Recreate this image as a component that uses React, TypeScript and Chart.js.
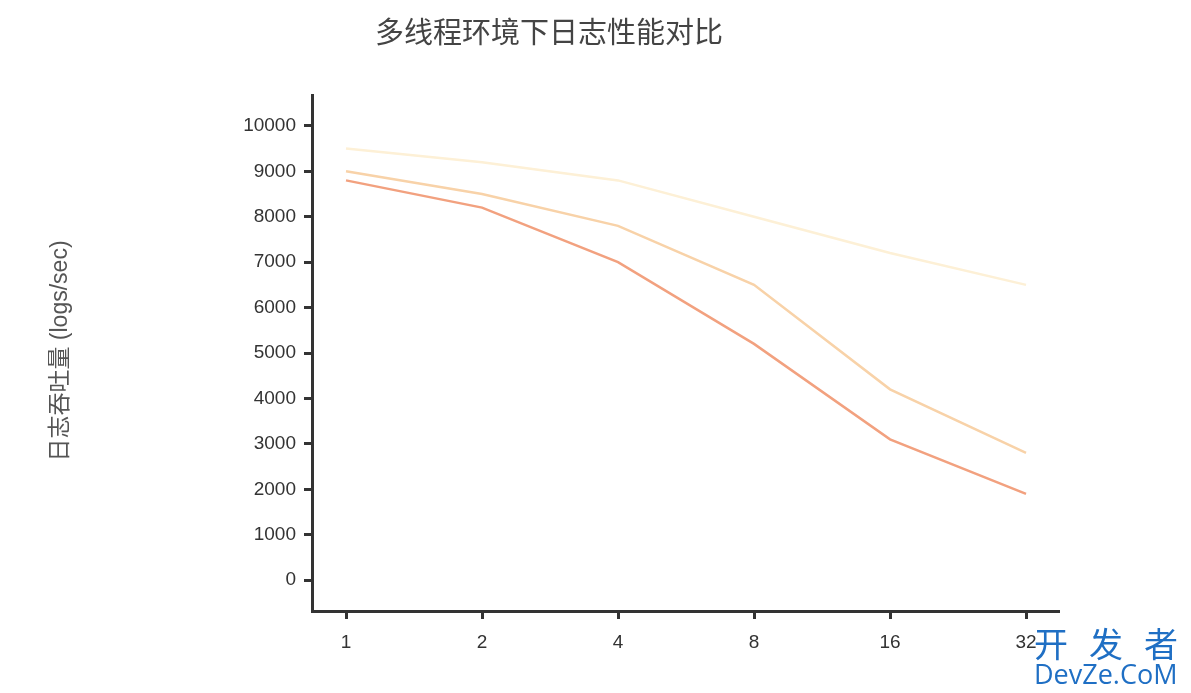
import React, { useEffect, useRef } from "react";
import { Chart, registerables } from "chart.js";

Chart.register(...registerables);

const threadLabels = ["1", "2", "4", "8", "16", "32"];
const seriesTop = [9500, 9200, 8800, 8000, 7200, 6500];
const seriesMid = [9000, 8500, 7800, 6500, 4200, 2800];
const seriesLow = [8800, 8200, 7000, 5200, 3100, 1900];
const yTicks = [0, 1000, 2000, 3000, 4000, 5000, 6000, 7000, 8000, 9000, 10000];
const titleText = "多线程环境下日志性能对比";
const yTitleText = "日志吞吐量 (logs/sec)";
const watermarkChars = ["开", "发", "者"];
const watermarkLatin = "DevZe.CoM";

const overlayPlugin = {
  id: "overlayText",
  afterDraw(chart: any) {
    const ctx = chart.ctx;
    ctx.save();
    ctx.fillStyle = "#444";
    ctx.font = '29px "Noto Sans CJK SC", sans-serif';
    ctx.textAlign = "center";
    ctx.textBaseline = "middle";
    ctx.fillText(titleText, 541, 24);

    ctx.translate(53, 343);
    ctx.rotate(-Math.PI / 2);
    ctx.fillStyle = "#555";
    ctx.font = '23px "Liberation Sans", "Noto Sans CJK SC", sans-serif';
    ctx.fillText(yTitleText, 0, 0);
    ctx.restore();

    ctx.save();
    ctx.fillStyle = "#1f6fc4";
    ctx.textAlign = "left";
    ctx.textBaseline = "alphabetic";
    ctx.font = '34px "Noto Sans CJK SC", sans-serif';
    watermarkChars.forEach((c, i) => ctx.fillText(c, 1026 + i * 55, 649));
    ctx.font = '27px "Open Sans", "DejaVu Sans", sans-serif';
    ctx.fillText(watermarkLatin, 1026, 676);
    ctx.restore();
  },
};

export default function App() {
  const ref = useRef<HTMLCanvasElement | null>(null);
  useEffect(() => {
    if (!ref.current) return;
    const mk = (vals: number[], color: string) => ({
      data: vals.map((v, i) => ({ x: i, y: v })),
      borderColor: color,
      backgroundColor: color,
      borderWidth: 2.5,
      pointRadius: 0,
      tension: 0,
      fill: false,
    });
    const chart = new Chart(ref.current, {
      type: "line",
      data: {
        datasets: [
          mk(seriesTop, "#fdf0d6"),
          mk(seriesMid, "#f8d2a8"),
          mk(seriesLow, "#f2a17f"),
        ],
      },
      options: {
        animation: false,
        responsive: true,
        maintainAspectRatio: false,
        layout: { padding: { top: 87, right: 125, left: 0, bottom: 0 } },
        plugins: {
          legend: { display: false },
          title: { display: false },
          tooltip: { enabled: false },
        },
        scales: {
          x: {
            type: "linear",
            min: -0.25,
            max: 5.235,
            afterFit: (s: any) => {
              s.height = 74;
            },
            afterBuildTicks: (s: any) => {
              s.ticks = threadLabels.map((_, i) => ({ value: i }));
            },
            ticks: {
              callback: (v: any) => threadLabels[v] ?? "",
              color: "#333",
              font: { size: 19, family: '"Liberation Sans", Arial, sans-serif' },
              padding: 12,
              maxRotation: 0,
              autoSkip: false,
            },
            grid: {
              drawOnChartArea: false,
              drawTicks: true,
              tickLength: 8,
              color: "#333",
              lineWidth: 3,
            },
            border: { display: true, color: "#333", width: 3 },
          },
          y: {
            type: "linear",
            min: -680,
            max: 10680,
            afterFit: (s: any) => {
              s.width = 304;
            },
            afterBuildTicks: (s: any) => {
              s.ticks = yTicks.map((v) => ({ value: v }));
            },
            ticks: {
              callback: (v: any) => String(v),
              color: "#333",
              font: { size: 19, family: '"Liberation Sans", Arial, sans-serif' },
              padding: 8,
            },
            grid: {
              drawOnChartArea: false,
              drawTicks: true,
              tickLength: 8,
              color: "#333",
              lineWidth: 3,
            },
            border: { display: true, color: "#333", width: 3 },
          },
        },
      },
      plugins: [overlayPlugin],
    });
    return () => chart.destroy();
  }, []);
  return (
    <div style={{ width: 1175, height: 677, position: "relative" }}>
      <canvas ref={ref} />
    </div>
  );
}
